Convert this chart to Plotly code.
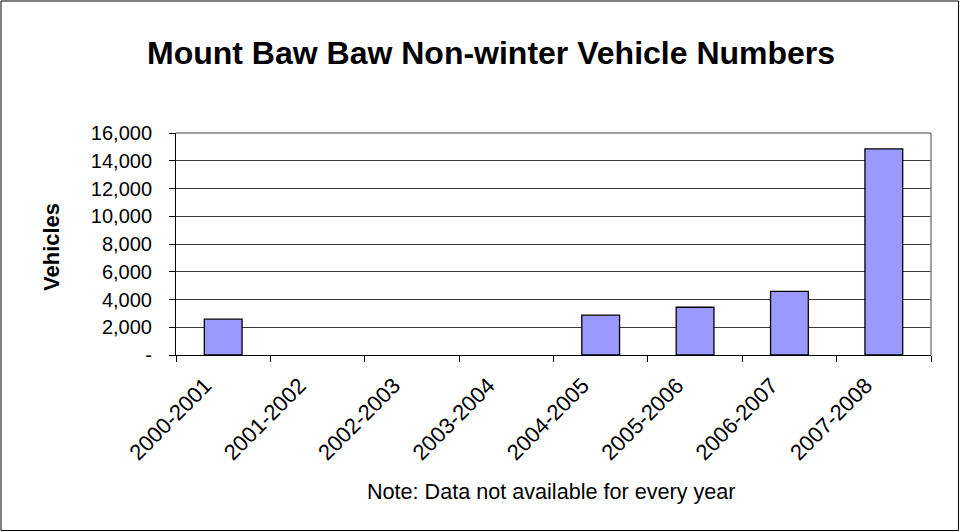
import plotly.graph_objects as go

categories = ["2000-2001", "2001-2002", "2002-2003", "2003-2004",
              "2004-2005", "2005-2006", "2006-2007", "2007-2008"]
vehicles = [2580, None, None, None, 2870, 3440, 4590, 14850]
y_tick_vals = [0, 2000, 4000, 6000, 8000, 10000, 12000, 14000, 16000]
y_tick_text = ["-", "2,000", "4,000", "6,000", "8,000", "10,000", "12,000", "14,000", "16,000"]

title_text = "Mount Baw Baw Non-winter Vehicle Numbers"
y_title = "Vehicles"
x_note = "Note: Data not available for every year"

W, H = 960, 532
L, R, T, B = 176, 29, 133, 177
pw = W - L - R
ph = H - T - B

def px_x(x):
    return (x - L) / pw

def px_y(y):
    return (H - B - y) / ph

FONT = "Liberation Sans, Arial, sans-serif"

fig = go.Figure()
fig.add_trace(go.Bar(
    x=categories, y=vehicles,
    marker=dict(color="#9999FF", line=dict(color="#000000", width=1.3)),
    hoverinfo="x+y",
))

fig.update_layout(
    width=W, height=H,
    margin=dict(l=L, r=R, t=T, b=B, autoexpand=False),
    paper_bgcolor="white", plot_bgcolor="white",
    bargap=0.6,
    showlegend=False,
    font=dict(family=FONT, color="black", size=20),
)

fig.update_xaxes(
    type="category",
    tickangle=-45,
    tickson="boundaries",
    ticks="outside", ticklen=6, tickcolor="black", tickwidth=1,
    ticklabelshift=-18,
    ticklabelstandoff=8,
    showline=True, linecolor="black", linewidth=1,
    showgrid=False,
    tickfont=dict(family=FONT, size=22, color="black"),
    automargin=False,
    mirror=False,
)
fig.update_yaxes(
    range=[0, 16000],
    tickvals=y_tick_vals, ticktext=y_tick_text,
    ticks="outside", ticklen=6, tickcolor="black", tickwidth=1,
    ticklabelstandoff=13,
    showline=True, linecolor="black", linewidth=1,
    showgrid=True, gridcolor="#3a3a3a", gridwidth=1,
    zeroline=False,
    tickfont=dict(family=FONT, size=20, color="black"),
    automargin=False,
)

# grey plot-area border on top and right
fig.add_shape(type="line", xref="paper", yref="paper", x0=0, x1=1, y0=1, y1=1,
              line=dict(color="#808080", width=1.5), layer="above")
fig.add_shape(type="line", xref="paper", yref="paper", x0=1, x1=1, y0=0, y1=1,
              line=dict(color="#808080", width=1.5), layer="above")

# chart-area border
fig.add_shape(type="rect", xref="paper", yref="paper",
              x0=px_x(1), x1=px_x(W - 1.5), y0=px_y(H - 1.5), y1=px_y(1),
              line=dict(color="black", width=1), layer="above")

fig.add_annotation(text="<b>" + title_text + "</b>", xref="paper", yref="paper",
                   x=px_x(490.5), y=px_y(53), xanchor="center", yanchor="middle",
                   showarrow=False, font=dict(family=FONT, size=32, color="black"))
fig.add_annotation(text="<b>" + y_title + "</b>", xref="paper", yref="paper",
                   x=px_x(51), y=px_y(247), xanchor="center", yanchor="middle",
                   textangle=-90, showarrow=False,
                   font=dict(family=FONT, size=22, color="black"))
fig.add_annotation(text=x_note, xref="paper", yref="paper",
                   x=px_x(551.5), y=px_y(491), xanchor="center", yanchor="middle",
                   showarrow=False, font=dict(family=FONT, size=21.6, color="black"))

post = "document.body.style.margin='0';document.body.style.overflow='hidden';"
fig.write_html("out.html", post_script=post, config={"displayModeBar": False})
